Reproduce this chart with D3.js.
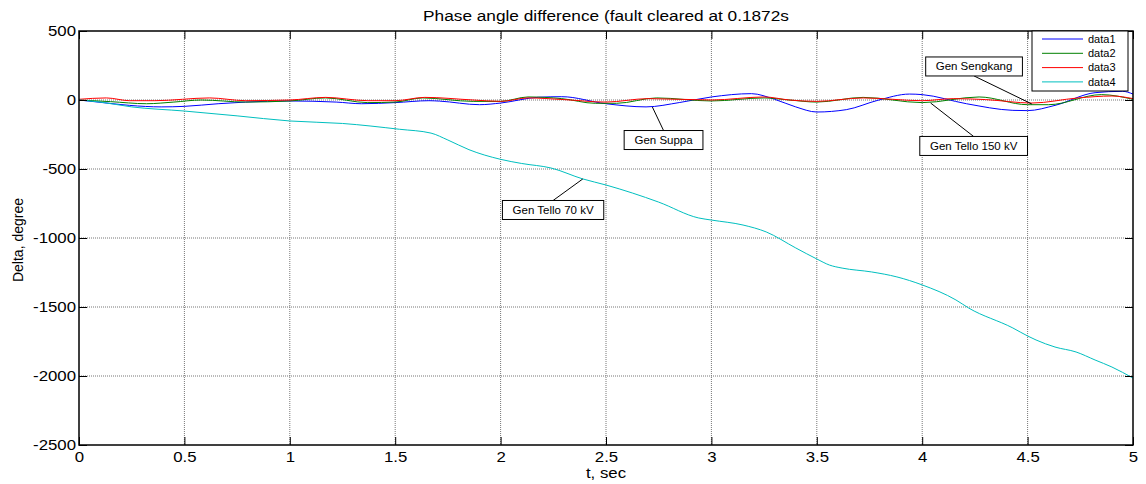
<!DOCTYPE html>
<html>
<head>
<meta charset="utf-8">
<script src="https://cdn.jsdelivr.net/npm/d3@7"></script>
<style>
  html, body { margin: 0; padding: 0; background: #fff; }
  svg { display: block; }
  text { font-family: 'Liberation Sans', Arial, Helvetica, sans-serif; fill: #000; }
</style>
</head>
<body>
<svg id="chart"></svg>
<script>
// time (s) and angle (degree)
const t1 = [0, 0.12, 0.24, 0.39, 0.5, 0.66, 0.79, 1.0, 1.22, 1.34, 1.5, 1.66, 1.71, 1.9, 2.0, 2.18, 2.29, 2.5, 2.69, 2.85, 3.0, 3.19, 3.3, 3.4, 3.5, 3.64, 3.79, 3.94, 4.0, 4.21, 4.43, 4.5, 4.63, 4.82, 4.95, 5.0]
const data1 = [0, -20, -39, -50, -46, -27, -15, -7, -15, -27, -19, -5, -8, -34, -22, 20, 24, -27, -50, -18, 22, 46, 5, -50, -87, -70, -2, 43, 39, -27, -75, -77, -39, 53, 63, 43]

const t2 = [0, 0.15, 0.32, 0.45, 0.58, 0.79, 1.0, 1.17, 1.37, 1.5, 1.63, 1.87, 2.0, 2.13, 2.29, 2.45, 2.55, 2.74, 3.0, 3.25, 3.37, 3.5, 3.72, 4.0, 4.27, 4.5, 4.6, 4.85, 5.0]
const data2 = [0, -12, -27, -15, 0, -15, -7, 15, -19, -15, 15, -10, -10, 22, 10, -24, -24, 15, -7, 15, 0, -15, 19, -19, 22, -34, -34, 39, 5]

const t3 = [0, 0.13, 0.24, 0.36, 0.62, 0.79, 1.0, 1.17, 1.37, 1.5, 1.64, 1.87, 2.0, 2.13, 2.3, 2.5, 2.7, 3.0, 3.25, 3.37, 3.5, 3.72, 4.0, 4.15, 4.3, 4.52, 4.74, 4.9, 5.0]
const data3 = [5, 15, -5, -5, 15, -5, 0, 19, -5, -5, 19, 0, -10, 15, 3, -15, 10, 0, 22, 0, -10, 15, -5, 10, 3, -22, 15, 29, 10]

const t4 = [0, 0.1, 0.25, 0.5, 0.75, 1.0, 1.25, 1.52, 1.67, 1.75, 1.85, 2.0, 2.1, 2.24, 2.39, 2.5, 2.75, 2.94, 3.0, 3.15, 3.26, 3.4, 3.5, 3.56, 3.62, 3.76, 3.88, 4.0, 4.16, 4.22, 4.43, 4.5, 4.54, 4.63, 4.73, 4.82, 4.9, 5.0]
const data4 = [0, -15, -50, -80, -115, -152, -170, -212, -240, -290, -360, -430, -460, -493, -572, -616, -740, -855, -870, -906, -956, -1072, -1152, -1196, -1218, -1246, -1282, -1340, -1449, -1507, -1652, -1710, -1739, -1790, -1826, -1884, -1935, -2015]

const seriesNames = ['data1', 'data2', 'data3', 'data4']
const xTicks = [0, 0.5, 1, 1.5, 2, 2.5, 3, 3.5, 4, 4.5, 5]
const yTicks = [-2500, -2000, -1500, -1000, -500, 0, 500]

// annotation labels: box centre (t, deg) and the point the line goes to
const noteText = ['Gen Sengkang', 'Gen Tello 150 kV', 'Gen Suppa', 'Gen Tello 70 kV']
const noteBox = [[4.246, 243], [4.244, -333], [2.773, -290], [2.249, -797]]
const notePoint = [[4.52, -29], [4.04, -22], [2.72, -51], [2.39, -572]]

const width = 1146
const height = 484
const colors = ['#0000ff', '#008000', '#ff0000', '#00bfbf']
const stretch = 1.2

const svg = d3.select('#chart')
    .attr('width', width)
    .attr('height', height)

const x = d3.scaleLinear().domain([0, 5]).range([79, 1133])
const y = d3.scaleLinear().domain([-2500, 500]).range([445, 31])

// grid
const grid = svg.append('g')
grid.selectAll('.gx')
    .data(xTicks.slice(1, -1))
    .join('line')
    .attr('x1', d => x(d)).attr('x2', d => x(d))
    .attr('y1', y(500)).attr('y2', y(-2500))
    .attr('stroke', '#777').attr('stroke-dasharray', '1,1')
grid.selectAll('.gy')
    .data(yTicks.slice(1, -1))
    .join('line')
    .attr('y1', d => y(d)).attr('y2', d => y(d))
    .attr('x1', x(0)).attr('x2', x(5))
    .attr('stroke', '#777').attr('stroke-dasharray', '1,1')

// curves
const line = d3.line()
    .x(d => x(d[0]))
    .y(d => y(d[1]))
    .curve(d3.curveMonotoneX)

const series = [[t1, data1], [t2, data2], [t3, data3], [t4, data4]]
series.forEach(([ts, vs], i) => {
    svg.append('path')
        .datum(ts.map((t, j) => [t, vs[j]]))
        .attr('d', line)
        .attr('fill', 'none')
        .attr('stroke', colors[i])
        .attr('stroke-width', 1)
})

// axes, ticks pointing inward
const fmt = d => String(d)
const xAxis = svg.append('g')
    .attr('transform', `translate(0, ${y(-2500)})`)
    .call(d3.axisBottom(x).tickValues(xTicks).tickFormat(fmt).tickSizeInner(-8).tickSizeOuter(0).tickPadding(7))
const yAxis = svg.append('g')
    .attr('transform', `translate(${x(0)}, 0)`)
    .call(d3.axisLeft(y).tickValues(yTicks).tickFormat(fmt).tickSizeInner(-8).tickSizeOuter(0).tickPadding(3))
svg.append('g')
    .attr('transform', `translate(0, ${y(500)})`)
    .call(d3.axisTop(x).tickValues(xTicks).tickFormat('').tickSizeInner(-8).tickSizeOuter(0))
svg.append('g')
    .attr('transform', `translate(${x(5)}, 0)`)
    .call(d3.axisRight(y).tickValues(yTicks).tickFormat('').tickSizeInner(-8).tickSizeOuter(0))

svg.selectAll('.domain').remove()
svg.selectAll('.tick line').attr('stroke', '#000')
svg.selectAll('.tick text')
    .style('font-size', '14px')
    .style('font-family', "'Liberation Sans', Arial, sans-serif")
    .attr('fill', '#000')
    .attr('transform', `scale(${stretch},1)`)
yAxis.selectAll('.tick text').attr('x', -3 / stretch)

// frame
svg.append('rect')
    .attr('x', x(0)).attr('y', y(500))
    .attr('width', x(5) - x(0)).attr('height', y(-2500) - y(500))
    .attr('fill', 'none').attr('stroke', '#000').attr('stroke-width', 1.5)

// titles
svg.append('g')
    .attr('transform', `translate(${(x(0) + x(5)) / 2}, 21) scale(1.15,1)`)
    .append('text')
    .attr('text-anchor', 'middle')
    .style('font-size', '15px')
    .text('Phase angle difference (fault cleared at 0.1872s')

svg.append('g')
    .attr('transform', `translate(${(x(0) + x(5)) / 2}, 478) scale(${stretch},1)`)
    .append('text')
    .attr('text-anchor', 'middle')
    .style('font-size', '14px')
    .text('t, sec')

svg.append('text')
    .attr('transform', `translate(23, ${(y(500) + y(-2500)) / 2 + 2}) rotate(-90)`)
    .attr('text-anchor', 'middle')
    .style('font-size', '14px')
    .text('Delta, degree')

// annotations
noteText.forEach((txt, i) => {
    const cx = x(noteBox[i][0])
    const cy = y(noteBox[i][1])
    const g = svg.append('g')
    const ln = g.append('line').attr('stroke', '#000').attr('stroke-width', 1)
    const rect = g.append('rect').attr('fill', '#fff').attr('stroke', '#000').attr('stroke-width', 1)
    const label = g.append('text')
        .attr('x', cx).attr('y', cy)
        .attr('text-anchor', 'middle')
        .attr('dominant-baseline', 'central')
        .style('font-size', '11.5px')
        .attr('fill', '#222')
        .text(txt)
    const bb = label.node().getBBox()
    const w = bb.width + 20
    const h = 19
    rect.attr('x', cx - w / 2).attr('y', cy - h / 2).attr('width', w).attr('height', h)
    const px = x(notePoint[i][0])
    const py = y(notePoint[i][1])
    ln.attr('x1', cx).attr('y1', py > cy ? cy + h / 2 : cy - h / 2)
        .attr('x2', px).attr('y2', py)
})

// legend
const legend = svg.append('g')
legend.append('rect')
    .attr('x', 1032).attr('y', 31).attr('width', 96).attr('height', 60)
    .attr('fill', '#fff').attr('stroke', '#000')
const item = legend.selectAll('.item')
    .data(seriesNames)
    .join('g')
    .attr('transform', (d, i) => `translate(1042, ${39 + i * 14.3})`)
item.append('line')
    .attr('x1', 0).attr('x2', 41)
    .attr('stroke', (d, i) => colors[i])
item.append('text')
    .attr('x', 46)
    .attr('dy', '0.35em')
    .style('font-size', '11px')
    .text(d => d)
</script>
</body>
</html>
